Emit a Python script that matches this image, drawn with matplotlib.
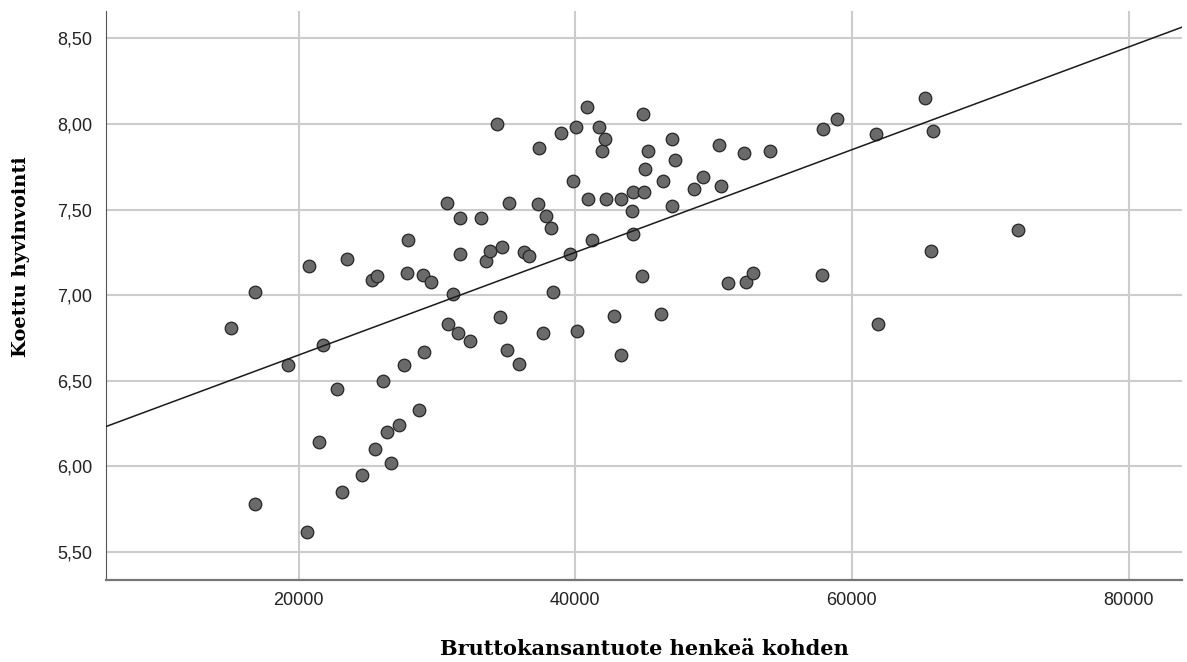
import numpy as np
from matplotlib import pyplot as plt

# GDP per capita (x) and perceived wellbeing (y)
gdp = [15100, 16840, 19205, 16840, 20766, 20622, 21490, 21735, 22748, 23109,
       23471, 24599, 25279, 25640, 25517, 26074, 26363, 26653, 27253, 27636,
       27810, 27925, 28721, 28967, 29082, 29566, 30702, 30818, 31179, 31541,
       31664, 31664, 32387, 33182, 33522, 33833, 34318, 34701, 34578, 35084,
       35185, 35930, 36313, 36653, 37282, 37376, 37644, 37861, 38266, 38410,
       38945, 39618, 39856, 40030, 40102, 40825, 40919, 41230, 41715, 41932,
       42171, 42221, 42799, 43306, 43327, 44101, 44152, 44195, 44803, 44875,
       44947, 45041, 45280, 46220, 46365, 46972, 46972, 47210, 48563, 49214,
       50392, 50537, 51065, 52222, 52323, 52873, 54059, 57819, 57934, 58903,
       61723, 61889, 65310, 65722, 65888, 71991]
wellbeing = [6.81, 7.02, 6.59, 5.78, 7.17, 5.62, 6.14, 6.71, 6.45, 5.85,
             7.21, 5.95, 7.09, 7.11, 6.10, 6.50, 6.20, 6.02, 6.24, 6.59,
             7.13, 7.32, 6.33, 7.12, 6.67, 7.08, 7.54, 6.83, 7.01, 6.78,
             7.45, 7.24, 6.73, 7.45, 7.20, 7.26, 8.00, 7.28, 6.87, 6.68,
             7.54, 6.60, 7.25, 7.23, 7.53, 7.86, 6.78, 7.46, 7.39, 7.02,
             7.95, 7.24, 7.67, 7.98, 6.79, 8.10, 7.56, 7.32, 7.98, 7.84,
             7.91, 7.56, 6.88, 6.65, 7.56, 7.49, 7.36, 7.60, 7.11, 8.06,
             7.60, 7.74, 7.84, 6.89, 7.67, 7.91, 7.52, 7.79, 7.62, 7.69,
             7.88, 7.64, 7.07, 7.83, 7.08, 7.13, 7.84, 7.12, 7.97, 8.03,
             7.94, 6.83, 8.15, 7.26, 7.96, 7.38]

x_ticks = [20000, 40000, 60000, 80000]
y_ticks = [5.5, 6.0, 6.5, 7.0, 7.5, 8.0, 8.5]

fig = plt.figure(figsize=(11.87, 6.62), dpi=100)
ax = fig.add_axes([0.0893, 0.1239, 0.9065, 0.8595])

ax.set_xticks(x_ticks)
ax.set_yticks(y_ticks)
ax.set_yticklabels([("%.2f" % v).replace(".", ",") for v in y_ticks])
ax.tick_params(axis="both", length=0, labelsize=13, colors="#222222",
               labelfontfamily="Liberation Sans")
ax.tick_params(axis="x", pad=9)
ax.tick_params(axis="y", pad=10)

ax.grid(True, color="#cccccc", linewidth=1.5)
ax.set_axisbelow(True)
for side in ["top", "right"]:
    ax.spines[side].set_visible(False)
ax.spines["left"].set_color("#555555")
ax.spines["bottom"].set_color("#777777")
ax.spines["bottom"].set_linewidth(1.6)

ax.scatter(gdp, wellbeing, s=82, color="#6a6a6a", edgecolor="#262626",
           linewidth=0.9, zorder=3)

# linear fit line
slope, intercept = np.polyfit(gdp, wellbeing, 1)
xs = np.array([6066, 83868])
ax.plot(xs, intercept + slope * xs, color="#1a1a1a", linewidth=1.1, zorder=4)

ax.set_xlim(6066, 83868)
ax.set_ylim(5.337, 8.66)

ax.set_xlabel("Bruttokansantuote henkeä kohden", fontsize=15, fontweight="bold",
              family="DejaVu Serif")
ax.xaxis.set_label_coords(0.5, -0.103)
ax.set_ylabel("Koettu hyvinvointi", fontsize=14, fontweight="bold",
              family="DejaVu Serif")
ax.yaxis.set_label_coords(-0.071, 0.569)

plt.savefig("out.png", dpi=100)
